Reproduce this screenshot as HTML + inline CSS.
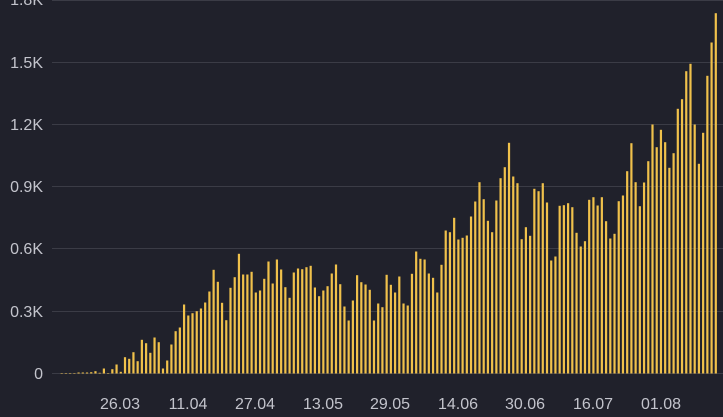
<!DOCTYPE html>
<html><head><meta charset="utf-8"><style>
html,body{margin:0;padding:0;background:#20212b;}
svg{display:block;}
text{font-family:"Liberation Sans",sans-serif;font-size:16px;fill:#c3c4cc;}
</style></head><body>
<svg id="c" width="723" height="417" viewBox="0 0 723 417" xmlns="http://www.w3.org/2000/svg">
<rect width="723" height="417" fill="#20212b"/>
<g stroke="#3b3c46" stroke-width="1">
<line x1="52" x2="723" y1="0.5" y2="0.5"/>
<line x1="52" x2="723" y1="62.5" y2="62.5"/>
<line x1="52" x2="723" y1="124.5" y2="124.5"/>
<line x1="52" x2="723" y1="186.5" y2="186.5"/>
<line x1="52" x2="723" y1="248.5" y2="248.5"/>
<line x1="52" x2="723" y1="311.5" y2="311.5"/>
<line x1="52" x2="723" y1="373.5" y2="373.5"/>
</g>
<g text-anchor="end">
<text x="43" y="5">1.8K</text>
<text x="43" y="68">1.5K</text>
<text x="43" y="130">1.2K</text>
<text x="43" y="192">0.9K</text>
<text x="43" y="254">0.6K</text>
<text x="43" y="317">0.3K</text>
<text x="43" y="379">0</text>
</g>
<g text-anchor="middle">
<text x="120" y="409">26.03</text>
<text x="188" y="409">11.04</text>
<text x="255" y="409">27.04</text>
<text x="323" y="409">13.05</text>
<text x="390" y="409">29.05</text>
<text x="458" y="409">14.06</text>
<text x="525" y="409">30.06</text>
<text x="593" y="409">16.07</text>
<text x="661" y="409">01.08</text>
</g>
<g id="bars" fill="#f0c14b"></g>
</svg>
<script>
var h=[0.5,0.3,0.3,0.3,1,1,1,1.3,2.3,0.7,5,0.3,4.3,9,1.7,16.3,14.7,21.3,12.3,33.7,30.3,20.7,36,31.3,5,13,29,42.3,46,69,58,60.3,62.3,65,71,82,103.7,91.7,70.7,53.3,85.7,96.3,119.7,99,99,101.7,81,83,94.7,112,90,114,
104,86.3,75.7,101,105,104.3,106.3,107.7,86,77.3,83,87.3,100,109,89.3,67,53,73,98.3,91.3,89,83.7,53,70,66.3,98.7,88.7,81,97,70,68,99.7,122,114.7,114,100,95.7,81,108.7,143,141.3,155.7,134,135.7,138,157,172,191.3,174.3,152.7,141.3,173,195.3,
206.3,230.7,197,190.3,134.3,146.3,137.7,184.7,182.3,190.3,171,113,117,167.7,168.3,170.3,166.3,140.7,127,132.3,173.7,176.3,168,176.3,152.3,135,139.7,172.3,178,202.3,230.3,191.3,167.3,191,212.3,249,226.3,243.7,231.3,205.7,220.3,264.7,274.3,302.3,309.7,249,209.7,240.7,297.7,331,360.3];
var g=document.getElementById('bars'),s='';
for(var i=0;i<h.length;i++){var x=61.7+i*4.22-1.1;var hh=Math.max(h[i],0.5);
s+='<rect x="'+x.toFixed(2)+'" y="'+(373.5-hh).toFixed(2)+'" width="2.2" height="'+hh.toFixed(2)+'"/>';}
g.innerHTML=s;
</script>
</body></html>
